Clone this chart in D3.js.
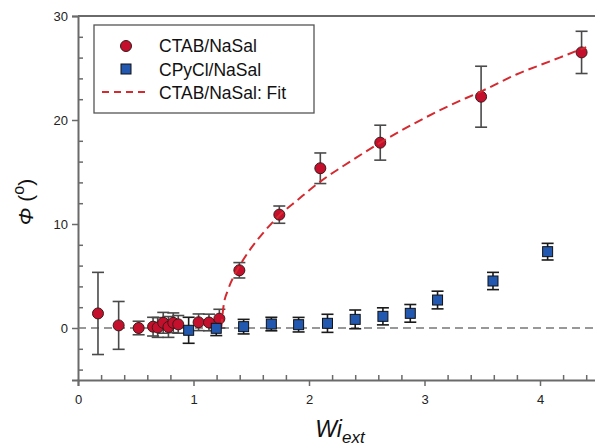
<!DOCTYPE html>
<html>
<head>
<meta charset="utf-8">
<script src="https://cdn.jsdelivr.net/npm/d3@7"></script>
<style>
  body { margin: 0; background: #fff; }
  text { font-family: "Liberation Sans", Arial, sans-serif; }
</style>
</head>
<body>
<svg class="chart" width="595" height="447"></svg>
<script>
// CTAB/NaSal (red circles)
const ctabX = [0.173, 0.352, 0.525, 0.65, 0.69, 0.738, 0.783, 0.825, 0.868, 1.044, 1.134, 1.224, 1.397, 1.743, 2.098, 2.617, 3.49, 4.36];
const ctabY = [1.4, 0.25, 0, 0.13, 0.05, 0.5, 0.1, 0.5, 0.35, 0.55, 0.53, 0.9, 5.55, 10.9, 15.36, 17.82, 22.24, 26.5];
const ctabErr = [3.95, 2.3, 0.65, 0.9, 0.95, 1.0, 1.0, 0.95, 0.85, 0.8, 0.8, 0.9, 0.74, 0.83, 1.47, 1.68, 2.93, 2.03];

// CPyCl/NaSal (blue squares)
const cpyX = [0.958, 1.197, 1.434, 1.674, 1.91, 2.16, 2.40, 2.64, 2.877, 3.113, 3.593, 4.066];
const cpyY = [-0.22, -0.03, 0.13, 0.38, 0.32, 0.45, 0.83, 1.12, 1.41, 2.69, 4.52, 7.34];
const cpyErr = [1.25, 0.7, 0.7, 0.65, 0.7, 0.87, 0.9, 0.82, 0.85, 0.85, 0.83, 0.8];

// fit curve
const fitX = [1.24, 1.26, 1.3, 1.35, 1.4, 1.5, 1.6, 1.75, 1.9, 2.1, 2.3, 2.6, 2.9, 3.2, 3.5, 3.8, 4.1, 4.4];
const fitY = [0, 2.1, 3.7, 5.0, 6.0, 7.7, 9.1, 10.9, 12.3, 14.1, 15.6, 17.7, 19.6, 21.3, 22.8, 24.4, 25.7, 27.0];

const xTicks = [0, 1, 2, 3, 4];
const yTicks = [0, 10, 20, 30];

const svg = d3.select(".chart");
const width = 595;
const height = 447;
const margin = { top: 16, right: 0, bottom: 67, left: 78 };
const graphWidth = width - margin.left - margin.right;
const graphHeight = height - margin.top - margin.bottom;

const xScale = d3.scaleLinear().domain([0, 4.5]).range([0, 4.5 * 115.5]);
const yScale = d3.scaleLinear().domain([-5, 30]).range([graphHeight, 0]);

const graph = svg.append("g")
  .attr("transform", `translate(${margin.left}, ${margin.top})`);

const axisColor = "#6a6a6a";

// minor ticks (inside)
const xAxisMinor = d3.axisTop(xScale)
  .tickValues(d3.range(0.2, 4.5, 0.2).filter(v => Math.abs(v - Math.round(v)) > 0.01))
  .tickSize(5).tickFormat("");
const xAxis = d3.axisBottom(xScale).tickValues(xTicks).tickSize(6).tickPadding(9).tickFormat(d3.format("d"));

const yAxisMinor = d3.axisRight(yScale)
  .tickValues(d3.range(-4, 30, 2).filter(v => v % 10 !== 0))
  .tickSize(5).tickFormat("");
const yAxis = d3.axisLeft(yScale).tickValues(yTicks).tickSize(6).tickPadding(4).tickFormat(d3.format("d"));

const xMinorG = graph.append("g").attr("transform", `translate(0, ${graphHeight})`).call(xAxisMinor);
const xAxisG = graph.append("g").attr("transform", `translate(0, ${graphHeight})`).call(xAxis);
const yMinorG = graph.append("g").call(yAxisMinor);
const yAxisG = graph.append("g").call(yAxis);

[xMinorG, xAxisG, yMinorG, yAxisG].forEach(g => {
  g.selectAll(".domain").attr("stroke", axisColor).attr("stroke-width", 2);
  g.selectAll(".tick line").attr("stroke", axisColor).attr("stroke-width", 1.5);
});
xMinorG.select(".domain").remove();
yMinorG.select(".domain").remove();
[xAxisG, yAxisG].forEach(g => {
  g.selectAll(".tick text")
    .attr("fill", "#222")
    .style("font-size", "13px")
    .style("font-family", "'Liberation Sans', Arial, sans-serif");
});

// top frame
graph.append("line")
  .attr("x1", 0).attr("x2", graphWidth)
  .attr("y1", 0).attr("y2", 0)
  .attr("stroke", axisColor).attr("stroke-width", 2);

// zero line
graph.append("line")
  .attr("x1", xScale(0)).attr("x2", graphWidth)
  .attr("y1", yScale(0)).attr("y2", yScale(0))
  .attr("stroke", "#777").attr("stroke-width", 1.3)
  .attr("stroke-dasharray", "8,5");

// error bars
const errBars = (xs, ys, es, color) => {
  const g = graph.append("g").attr("stroke", color).attr("stroke-width", 1.6);
  xs.forEach((x, i) => {
    const cx = xScale(x);
    const top = yScale(ys[i] + es[i]);
    const bot = yScale(ys[i] - es[i]);
    g.append("line").attr("x1", cx).attr("x2", cx).attr("y1", top).attr("y2", bot);
    g.append("line").attr("x1", cx - 6).attr("x2", cx + 6).attr("y1", top).attr("y2", top);
    g.append("line").attr("x1", cx - 6).attr("x2", cx + 6).attr("y1", bot).attr("y2", bot);
  });
};
errBars(ctabX, ctabY, ctabErr, "#4a4a4a");
errBars(cpyX, cpyY, cpyErr, "#1a1a1a");

// red circles
graph.append("g")
  .selectAll("circle")
  .data(ctabX)
  .enter()
  .append("circle")
  .attr("cx", d => xScale(d))
  .attr("cy", (d, i) => yScale(ctabY[i]))
  .attr("r", 5.5)
  .attr("fill", "#c4102c")
  .attr("stroke", "#3a1a1a")
  .attr("stroke-width", 1);

// fit line
const fitLine = d3.line()
  .x(d => xScale(d[0]))
  .y(d => yScale(d[1]))
  .curve(d3.curveMonotoneX);
graph.append("path")
  .datum(fitX.map((x, i) => [x, fitY[i]]))
  .attr("d", fitLine)
  .attr("fill", "none")
  .attr("stroke", "#d42a30")
  .attr("stroke-width", 2)
  .attr("stroke-dasharray", "9,5");

// blue squares
graph.append("g")
  .selectAll("rect")
  .data(cpyX)
  .enter()
  .append("rect")
  .attr("x", d => xScale(d) - 5)
  .attr("y", (d, i) => yScale(cpyY[i]) - 5)
  .attr("width", 10)
  .attr("height", 10)
  .attr("fill", "#2358b0")
  .attr("stroke", "#111")
  .attr("stroke-width", 1);

// legend
const legend = svg.append("g");
legend.append("rect")
  .attr("x", 94).attr("y", 25)
  .attr("width", 220).attr("height", 88)
  .attr("fill", "#fff")
  .attr("stroke", "#555").attr("stroke-width", 1.3);
legend.append("circle")
  .attr("cx", 126).attr("cy", 46).attr("r", 5.5)
  .attr("fill", "#c4102c").attr("stroke", "#3a1a1a");
legend.append("rect")
  .attr("x", 121).attr("y", 64).attr("width", 10).attr("height", 10)
  .attr("fill", "#2358b0").attr("stroke", "#111");
legend.append("line")
  .attr("x1", 102).attr("x2", 149).attr("y1", 92).attr("y2", 92)
  .attr("stroke", "#d42a30").attr("stroke-width", 2)
  .attr("stroke-dasharray", "7,5");
const legendText = ["CTAB/NaSal", "CPyCl/NaSal", "CTAB/NaSal: Fit"];
legend.selectAll(".ltext")
  .data(legendText)
  .enter()
  .append("text")
  .attr("x", 159)
  .attr("y", (d, i) => 52 + i * 23.5)
  .text(d => d)
  .style("font-size", "17.5px")
  .attr("fill", "#111");

// axis titles
const xTitle = svg.append("text")
  .attr("x", 340)
  .attr("y", 437)
  .attr("text-anchor", "middle")
  .attr("fill", "#111")
  .style("font-size", "23px")
  .style("font-style", "italic");
xTitle.append("tspan").text("Wi");
xTitle.append("tspan").attr("dy", 6).style("font-size", "17px").text("ext");

const yTitle = svg.append("text")
  .attr("transform", "translate(33, 202) rotate(-90)")
  .attr("text-anchor", "middle")
  .attr("fill", "#111")
  .style("font-size", "21px");
yTitle.append("tspan").style("font-style", "italic").text("Φ");
yTitle.append("tspan").text(" (");
yTitle.append("tspan").attr("dy", -9).style("font-size", "16px").text("o");
yTitle.append("tspan").attr("dy", 9).text(")");
</script>
</body>
</html>
